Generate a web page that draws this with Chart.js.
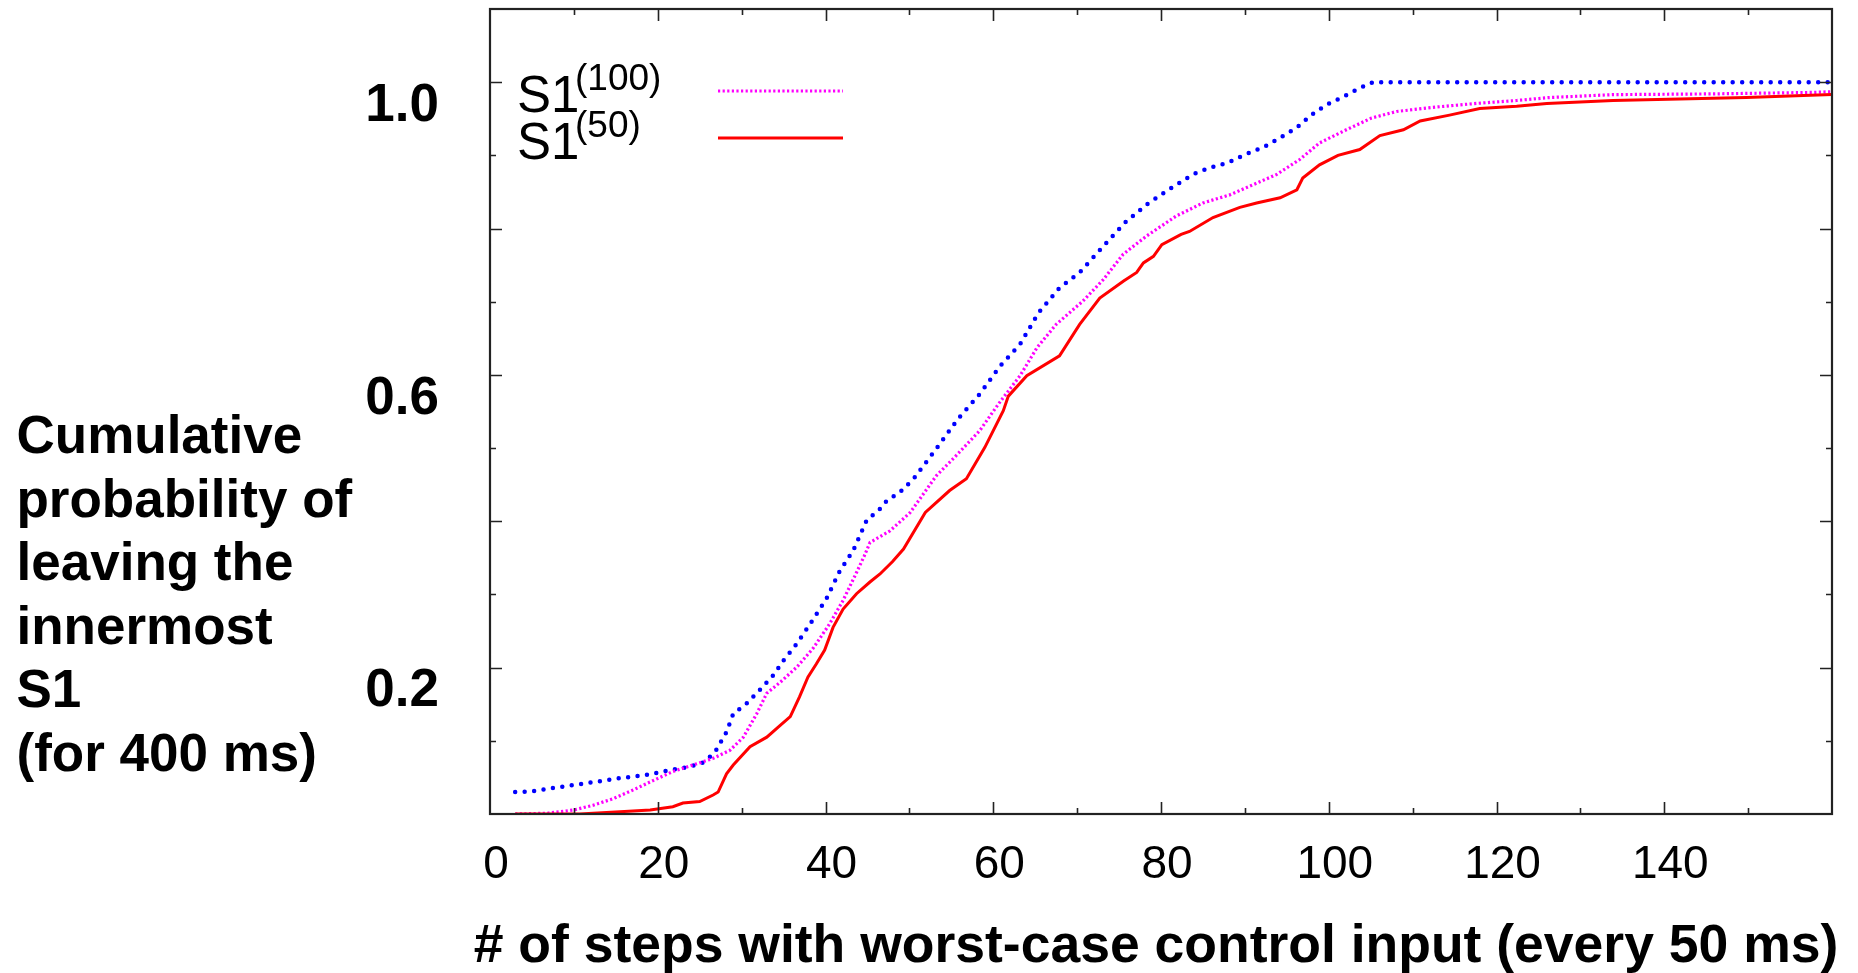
<!DOCTYPE html>
<html>
<head>
<meta charset="utf-8">
<script src="https://cdn.jsdelivr.net/npm/chart.js@4.4.0/dist/chart.umd.min.js"></script>
<style>
html,body{margin:0;padding:0;background:#fff;}
canvas{display:block;}
</style>
</head>
<body>
<canvas id="c" width="1858" height="973"></canvas>
<script>
// ---- data ----
const blueX = [3,5,9,12,15.5,18.5,21,23.5,25.2,26.2,27,28.2,29,30.6,32.2,33.8,35,36.6,38.3,40.1,41.7,43.3,44.9,46.5,47.3,48.9,50.5,53.2,55.8,58.4,60.8,63.2,65.4,67.9,70.3,73.3,75.7,78.3,80.9,83.8,85.8,88,90,92.2,94.2,96.2,97.9,99.7,101.7,103.7,105.3,160];
const blueY = [0.030,0.031,0.038,0.043,0.049,0.053,0.059,0.064,0.069,0.078,0.088,0.112,0.137,0.151,0.170,0.190,0.210,0.233,0.262,0.294,0.332,0.360,0.401,0.417,0.428,0.440,0.458,0.499,0.540,0.574,0.612,0.642,0.685,0.719,0.740,0.778,0.808,0.833,0.853,0.874,0.883,0.890,0.901,0.911,0.924,0.938,0.955,0.969,0.980,0.992,1.0,1.0];

const s100X = [3,6.8,10,12.3,14.7,17.1,19.5,21.8,24.2,26.6,28.6,30.2,31.8,33,34.6,36.6,38.5,40.5,42.1,43.7,44.6,45.3,47.7,50.1,53.2,55.6,58.4,60.6,63.2,65.2,67.5,70.7,73.1,75.5,78.3,81.8,85,88.2,90.6,93.8,96.5,98.9,102.1,105.1,108.1,112.8,117.6,122.4,126.3,133.9,145.8,157.7,160];
const s100Y = [0,0.001,0.0055,0.012,0.021,0.033,0.046,0.058,0.067,0.076,0.087,0.105,0.137,0.165,0.180,0.201,0.226,0.260,0.292,0.330,0.352,0.371,0.387,0.412,0.462,0.490,0.524,0.560,0.599,0.637,0.669,0.701,0.730,0.765,0.790,0.817,0.835,0.846,0.858,0.874,0.894,0.917,0.935,0.951,0.960,0.966,0.971,0.975,0.979,0.983,0.984,0.986,0.987];

const s50X = [3,10.7,15.5,19.1,21.8,23,25,26.6,27.2,28.2,29,31,33,34.6,35.8,36.9,37.9,38.9,39.9,40.9,42.1,43.7,45.3,46.5,48,49.3,51.9,54.8,56.8,59,61.2,61.8,64,67.9,70.3,72.7,75.5,77.1,77.9,79.1,80.1,82.4,83.4,86.2,89.4,91.4,94.2,96.2,96.9,98.9,101.1,103.7,106.1,108.9,110.9,114.4,118,122.4,126,133.9,141.8,149.8,160];
const s50Y = [0,0,0.003,0.0055,0.010,0.015,0.017,0.026,0.030,0.055,0.067,0.092,0.105,0.121,0.133,0.160,0.187,0.205,0.224,0.255,0.280,0.301,0.317,0.328,0.345,0.362,0.412,0.442,0.458,0.501,0.551,0.571,0.599,0.626,0.669,0.705,0.728,0.740,0.753,0.762,0.778,0.792,0.796,0.815,0.829,0.835,0.842,0.853,0.869,0.887,0.900,0.908,0.927,0.935,0.947,0.955,0.964,0.967,0.971,0.975,0.977,0.979,0.983];

const xTickValues = [0,20,40,60,80,100,120,140];
const yTickValues = [1.0,0.6,0.2];
const yTickLabels = ['1.0','0.6','0.2'];
const legendBase = ['S1','S1'];
const legendSup = ['(100)','(50)'];
const xTitle = '# of steps with worst-case control input (every 50 ms)';
const yTitleLines = ['Cumulative','probability of','leaving the','innermost','S1','(for 400 ms)'];

// ---- chart ----
const FONT = '"Liberation Sans", Arial, Helvetica, sans-serif';
const pts = (xs, ys) => xs.map((x, i) => ({x: x, y: ys[i]}));

const frameTicks = {
  id: 'frameTicks',
  afterDatasetsDraw(chart) {
    const {ctx, chartArea: a, scales: {x, y}} = chart;
    ctx.save();
    ctx.strokeStyle = '#222';
    ctx.lineWidth = 1.6;
    ctx.beginPath();
    x.ticks.forEach(t => {
      const v = t.value;
      if (v <= x.min || v >= x.max) return;
      const px = Math.round(x.getPixelForValue(v)) + 0.5;
      const len = (Math.round(v) % 20 === 0) ? 12 : 6;
      ctx.moveTo(px, a.bottom); ctx.lineTo(px, a.bottom - len);
      ctx.moveTo(px, a.top); ctx.lineTo(px, a.top + len);
    });
    y.ticks.forEach(t => {
      const v = t.value;
      if (v <= y.min + 1e-9 || v >= y.max - 1e-9) return;
      const py = Math.round(y.getPixelForValue(v)) + 0.5;
      const len = (Math.round(v * 10) % 2 === 0) ? 12 : 6;
      ctx.moveTo(a.left, py); ctx.lineTo(a.left + len, py);
      ctx.moveTo(a.right, py); ctx.lineTo(a.right - len, py);
    });
    ctx.stroke();
    ctx.lineWidth = 2.2;
    ctx.strokeRect(a.left, a.top, a.right - a.left, a.bottom - a.top);
    ctx.restore();
  }
};

const textPlugin = {
  id: 'textPlugin',
  afterDraw(chart) {
    const {ctx, chartArea: a} = chart;
    ctx.save();
    ctx.fillStyle = '#000';
    ctx.textBaseline = 'alphabetic';
    ctx.textAlign = 'left';
    // y-axis title (multi-line, left)
    ctx.font = 'bold 53px ' + FONT;
    yTitleLines.forEach((s, i) => ctx.fillText(s, 16.5, 453 + i * 63.5));
    // x-axis title
    ctx.font = 'bold 53.5px ' + FONT;
    ctx.textAlign = 'center';
    ctx.fillText(xTitle, (a.left + a.right) / 2 - 5, 962);
    ctx.textAlign = 'left';
    // legend
    const ds = chart.data.datasets;
    [1, 2].forEach((di, i) => {
      const by = 112 + i * 47;
      ctx.font = '51px ' + FONT;
      ctx.fillStyle = '#000';
      ctx.fillText(legendBase[i], a.left + 27, by);
      ctx.font = '37px ' + FONT;
      ctx.fillText(legendSup[i], a.left + 85, by - 22);
      const d = ds[di];
      ctx.strokeStyle = d.borderColor;
      ctx.lineWidth = d.borderWidth;
      ctx.setLineDash(d.borderDash || []);
      ctx.lineCap = d.borderCapStyle || 'butt';
      ctx.beginPath();
      ctx.moveTo(a.left + 228, by - 21);
      ctx.lineTo(a.left + 353, by - 21);
      ctx.stroke();
    });
    ctx.restore();
  }
};

new Chart(document.getElementById('c'), {
  type: 'line',
  data: {
    datasets: [
      {label: 'S1', data: pts(s50X, s50Y), borderColor: 'rgb(255,0,0)', borderWidth: 3, pointRadius: 0, tension: 0, fill: false},
      {label: 'S1 (100)', data: pts(s100X, s100Y), borderColor: 'rgb(255,0,255)', borderWidth: 3.2, borderDash: [2.2, 2.4], pointRadius: 0, tension: 0, fill: false},
      {label: 'S1 (50)', data: pts(s50X, s50Y), hidden: true, borderColor: 'rgb(255,0,0)', borderWidth: 3, pointRadius: 0},
      {label: 'worst case', data: pts(blueX, blueY), borderColor: 'rgb(0,0,255)', borderWidth: 4.5, borderDash: [0, 9.5], borderCapStyle: 'round', pointRadius: 0, tension: 0, fill: false}
    ]
  },
  options: {
    responsive: false,
    animation: false,
    layout: {padding: {top: 9, right: 26, bottom: 0, left: 0}},
    plugins: {legend: {display: false}, tooltip: {enabled: false}},
    scales: {
      x: {
        type: 'linear', min: 0, max: 160,
        grid: {display: false}, border: {display: false},
        ticks: {
          stepSize: 10, autoSkip: false, maxRotation: 0, padding: 16, labelOffset: 6,
          color: '#000', font: {family: FONT, size: 46, lineHeight: 1.2},
          callback: v => xTickValues.includes(Math.round(v)) ? String(Math.round(v)) : ''
        },
        title: {display: false},
        afterFit: s => { s.height = 159; s.paddingLeft = 0; s.paddingRight = 0; }
      },
      y: {
        type: 'linear', min: 0, max: 1.1,
        grid: {display: false}, border: {display: false},
        ticks: {
          stepSize: 0.1, autoSkip: false, padding: 43, labelOffset: 24,
          color: '#000', font: {family: FONT, size: 53, weight: 'bold', lineHeight: 1.2},
          callback: v => { const k = yTickValues.findIndex(t => Math.abs(t - v) < 1e-6); return k >= 0 ? yTickLabels[k] : ''; }
        },
        afterFit: s => { s.width = 490; s.paddingTop = 0; s.paddingBottom = 0; }
      }
    }
  },
  plugins: [frameTicks, textPlugin]
});
</script>
</body>
</html>
